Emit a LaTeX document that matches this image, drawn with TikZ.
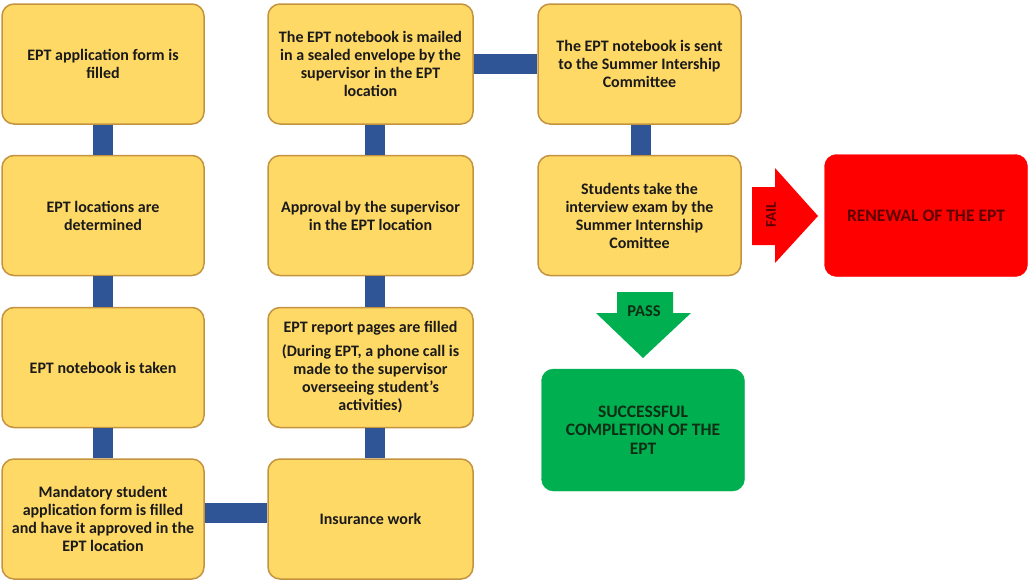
\documentclass[tikz,border=0pt]{standalone}
\usepackage{fontspec}
\setmainfont{Carlito}
\definecolor{boxfill}{HTML}{FFD966}
\definecolor{boxline}{HTML}{C4933F}
\definecolor{barblue}{HTML}{2F5597}
\definecolor{failred}{HTML}{FF0000}
\definecolor{passgreen}{HTML}{00B050}
\definecolor{txt}{HTML}{1A1A1A}
\definecolor{redtxt}{HTML}{5C0000}
\definecolor{greentxt}{HTML}{0F2E14}
\tikzset{
  stepbox/.style={draw=boxline, line width=1.5pt, fill=boxfill, rounded corners=12pt,
    minimum width=#1, minimum height=120pt, inner sep=0pt, align=center,
    font=\fontsize{16}{18}\selectfont\bfseries, text=txt},
  stepbox/.default=202pt,
  conn/.style={draw=barblue, line width=20pt},
  endbox/.style={rounded corners=12pt, minimum width=203pt, minimum height=122pt,
    inner sep=0pt, align=center, font=\fontsize{17.5}{18.5}\selectfont\bfseries}
}
\begin{document}
\begin{tikzpicture}[x=1pt,y=-1pt]
\useasboundingbox (0,0) rectangle (1028,581);
% column 1
\node[stepbox] (a1) at (103,64) {EPT application form is\\filled};
\node[stepbox] (a2) at (103,215.5) {EPT locations are\\determined};
\node[stepbox] (a3) at (103,367.5) {EPT notebook is taken};
\node[stepbox] (a4) at (103,519) {Mandatory student\\application form is filled\\and have it approved in the\\EPT location};
% column 2
\node[stepbox=205pt] (b4) at (370.5,519) {Insurance work};
\node[stepbox=205pt] (b3) at (370.5,367.5) {EPT report pages are filled\\[6pt](During EPT, a phone call is\\made to the supervisor\\overseeing student’s\\activities)};
\node[stepbox=205pt] (b2) at (370.5,215.5) {Approval by the supervisor\\in the EPT location};
\node[stepbox=205pt] (b1) at (370.5,64) {The EPT notebook is mailed\\in a sealed envelope by the\\supervisor in the EPT\\location};
% column 3
\node[stepbox=203pt] (c1) at (639.5,64) {The EPT notebook is sent\\to the Summer Intership\\Committee};
\node[stepbox=203pt] (c2) at (639.5,215.5) {Students take the\\interview exam by the\\Summer Internship\\Comittee};
% outcomes
\node[endbox, fill=failred, draw=failred, text=redtxt] (ren) at (926,215.5) {RENEWAL OF THE EPT};
\node[endbox, fill=passgreen, draw=passgreen, text=greentxt] (suc) at (643,430) {SUCCESSFUL\\COMPLETION OF THE\\EPT};
% connectors
\draw[conn] (a1.south) -- (a2.north);
\draw[conn] (a2.south) -- (a3.north);
\draw[conn] (a3.south) -- (a4.north);
\draw[conn] ([yshift=6pt]a4.east) -- ([yshift=6pt]b4.west);
\draw[conn] ([xshift=4.5pt]b4.north) -- ([xshift=4.5pt]b3.south);
\draw[conn] ([xshift=4.5pt]b3.north) -- ([xshift=4.5pt]b2.south);
\draw[conn] ([xshift=4.5pt]b2.north) -- ([xshift=4.5pt]b1.south);
\draw[conn] (b1.east) -- (c1.west);
\draw[conn] ([xshift=1.5pt]c1.south) -- ([xshift=1.5pt]c2.north);
% FAIL arrow
\fill[failred] (752,187) -- (775,187) -- (775,168) -- (818,216) -- (775,263) -- (775,245) -- (752,245) -- cycle;
\node[rotate=90, font=\fontsize{15}{17}\selectfont\bfseries, text=redtxt] (fail) at (771,215) {FAIL};
% PASS arrow
\fill[passgreen] (617,292) -- (673,292) -- (673,313) -- (691,313) -- (643,358) -- (596,313) -- (617,313) -- cycle;
\node[font=\fontsize{16.5}{18}\selectfont\bfseries, text=greentxt] (pass) at (644,311) {PASS};
\end{tikzpicture}
\end{document}
